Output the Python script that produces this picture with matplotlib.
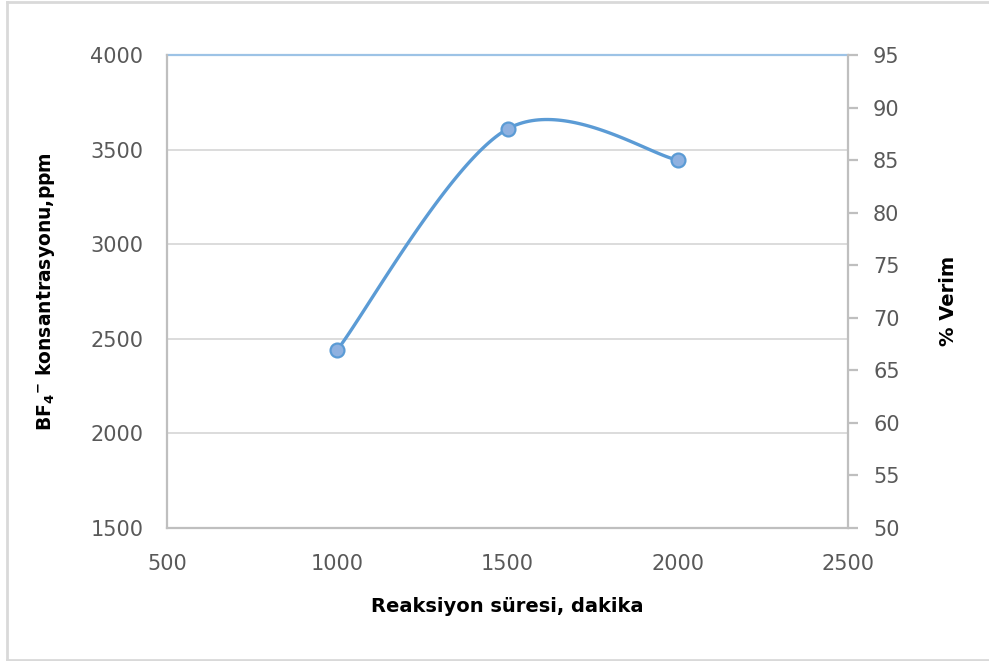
import numpy as np
import matplotlib
matplotlib.use("Agg")
import matplotlib.pyplot as plt
from matplotlib.lines import Line2D

# Data
time_min = [1000, 1500, 2000]
bf4_ppm = [2441, 3609, 3445]

x_ticks = [500, 1000, 1500, 2000, 2500]
y_ticks = [1500, 2000, 2500, 3000, 3500, 4000]
y2_ticks = [50, 55, 60, 65, 70, 75, 80, 85, 90, 95]

plt.rcParams['font.family'] = ['DejaVu Sans']

W, H = 989, 661
fig = plt.figure(figsize=(W / 100, H / 100), dpi=100)
ax = fig.add_axes([167 / W, 1 - 528 / H, (848 - 167) / W, (528 - 55) / H])

# Excel-like smooth curve (Bezier with 1/6 tangent factor)
def excel_smooth(xs, ys, n=60):
    P = np.column_stack([xs, ys]).astype(float)
    pts = []
    m = len(P)
    for i in range(m - 1):
        p0 = P[i - 1] if i > 0 else P[i]
        p1 = P[i]
        p2 = P[i + 1]
        p3 = P[i + 2] if i + 2 < m else P[i + 1]
        c1 = p1 + (p2 - p0) / 6.0
        c2 = p2 - (p3 - p1) / 6.0
        t = np.linspace(0, 1, n)[:, None]
        seg = ((1 - t) ** 3) * p1 + 3 * ((1 - t) ** 2) * t * c1 + 3 * (1 - t) * t ** 2 * c2 + t ** 3 * p2
        if i > 0:
            seg = seg[1:]
        pts.append(seg)
    pts = np.vstack(pts)
    return pts[:, 0], pts[:, 1]

sx, sy = excel_smooth(time_min, bf4_ppm)
ax.plot(sx, sy, color='#5B9BD5', lw=2.4, solid_capstyle='round', zorder=3)
ax.plot(time_min, bf4_ppm, linestyle='none', marker='o', markersize=10,
        markerfacecolor='#8FB1E0', markeredgecolor='#5B9BD5', markeredgewidth=1.6, zorder=4)

ax.set_xlim(500, 2500)
ax.set_ylim(1500, 4000)
ax.set_xticks(x_ticks)
ax.set_yticks(y_ticks)

# gridlines
for v in y_ticks[1:-1]:
    ax.axhline(v, color='#D9D9D9', lw=1.3, zorder=1)
ax.axhline(4000, color='#9DC3E6', lw=1.6, zorder=2, clip_on=False)

for s in ['top', 'right']:
    ax.spines[s].set_visible(False)
for s in ['left', 'bottom']:
    ax.spines[s].set_color('#BFBFBF')
    ax.spines[s].set_linewidth(1.6)

ax.tick_params(axis='both', length=0, labelsize=15, labelcolor='#595959')
ax.tick_params(axis='y', pad=17)
ax.tick_params(axis='x', pad=19)

ax2 = ax.twinx()
ax2.set_ylim(50, 95)
ax2.set_yticks(y2_ticks)
for s in ['top', 'left', 'bottom']:
    ax2.spines[s].set_visible(False)
ax2.spines['right'].set_color('#BFBFBF')
ax2.spines['right'].set_linewidth(1.6)
ax2.tick_params(axis='y', direction='out', length=7, width=1.6, color='#BFBFBF',
                labelsize=15, labelcolor='#595959', pad=11)

ax.set_xlabel('Reaksiyon süresi, dakika', fontsize=14, fontweight='bold', color='black', labelpad=16)
ax.set_ylabel(r'BF$_\mathbf{4}$$^{\mathbf{-}}$ konsantrasyonu,ppm', fontsize=13.5, fontweight='bold',
              color='black')
ax.yaxis.set_label_coords(-0.1615, 0.5)
ax2.set_ylabel('% Verim', fontsize=14, fontweight='bold', color='black')
ax2.yaxis.set_label_coords(1.133, 0.48)

# outer chart border
fig.add_artist(Line2D([6.5 / W, 1.0], [1 - 1.5 / H, 1 - 1.5 / H], color='#D9D9D9', lw=2, transform=fig.transFigure))
fig.add_artist(Line2D([6.5 / W, 6.5 / W], [1 - 1.5 / H, 1 - 659.5 / H], color='#D9D9D9', lw=2, transform=fig.transFigure))
fig.add_artist(Line2D([6.5 / W, 1.0], [1 - 659.5 / H, 1 - 659.5 / H], color='#D9D9D9', lw=2, transform=fig.transFigure))

fig.savefig('out.png', dpi=100)
